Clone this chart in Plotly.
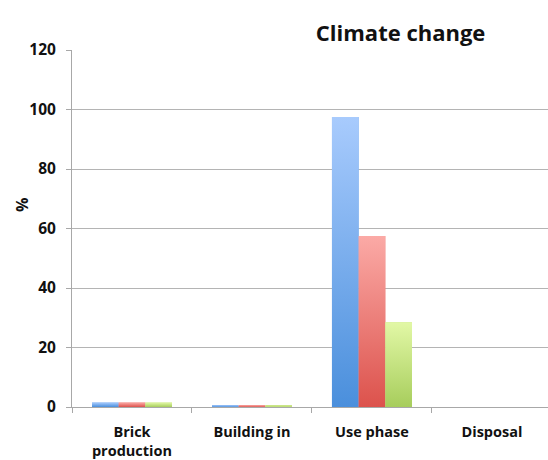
import plotly.graph_objects as go

# Life-cycle stages and the share (%) of climate-change impact per scenario
stages = ["Brick<br>production", "Building in", "Use phase", "Disposal"]
scenario_a = [1.5, 0.5, 97.5, 0.0]
scenario_b = [1.5, 0.5, 57.5, 0.0]
scenario_c = [1.5, 0.4, 28.5, 0.0]
y_ticks = [0, 20, 40, 60, 80, 100, 120]

# (name, values, flat colour, gradient bottom, gradient top)
series = [
    ("A", scenario_a, "#70a7ea", "#4a8fdc", "#a8cbfd"),
    ("B", scenario_b, "#ec7f79", "#dc524c", "#fbaaa6"),
    ("C", scenario_c, "#c4e07e", "#a7cd5c", "#e2f8a6"),
]

BARGAP = 0.333
n_series = len(series)
bar_w = (1 - BARGAP) / n_series
pos = list(range(len(stages)))

fig = go.Figure()
for k, (name, vals, col, dark, light) in enumerate(series):
    fig.add_trace(go.Bar(x=pos, y=vals, name=name, width=bar_w,
                         offset=-(1 - BARGAP) / 2 + k * bar_w,
                         marker=dict(color=col, line=dict(width=0))))
    # vertical gradient fill laid over each bar, spanning bar bottom to top
    for i, v in enumerate(vals):
        if v <= 0:
            continue
        x0 = pos[i] - (1 - BARGAP) / 2 + k * bar_w
        x1 = x0 + bar_w
        fig.add_trace(go.Scatter(
            x=[x0, x1, x1, x0, x0], y=[0, 0, v, v, 0],
            mode="lines", line=dict(width=0), fill="toself",
            fillgradient=dict(type="vertical", start=0, stop=v,
                              colorscale=[[0, dark], [1, light]]),
            hoverinfo="skip", showlegend=False))

font_family = "Open Sans, Liberation Sans, sans-serif"
fig.update_layout(
    width=548, height=460,
    margin=dict(l=72, r=0, t=50, b=53),
    paper_bgcolor="white", plot_bgcolor="white",
    barmode="overlay",
    showlegend=False,
    font=dict(family=font_family, color="#111111"),
    title=dict(text="<b>Climate change</b>", x=0.731, xanchor="center",
               y=0.928, yanchor="middle", font=dict(size=22, color="#111111")),
    annotations=[dict(text="<b>%</b>", textangle=-90, showarrow=False,
                      xref="paper", yref="paper", x=-0.105, y=0.566,
                      xanchor="center", yanchor="middle",
                      font=dict(size=16, color="#111111"))],
)
fig.update_xaxes(
    type="linear", range=[-0.5, 3.467],
    tickvals=pos, ticktext=stages, ticks="", ticklabelstandoff=12,
    minor=dict(tick0=-0.5, dtick=1, ticks="outside", ticklen=5,
               tickcolor="#a8a8a8", showgrid=False),
    showline=True, linecolor="#a8a8a8", linewidth=1,
    showgrid=False, zeroline=False,
    tickfont=dict(size=14.5, color="#111111", weight="bold"),
)
fig.update_yaxes(
    range=[0, 120], tickvals=y_ticks, ticks="outside", ticklen=5,
    tickcolor="#a8a8a8", showline=True, linecolor="#a8a8a8", linewidth=1,
    showgrid=True, gridcolor="#b4b4b4", gridwidth=1, zeroline=False,
    ticklabelstandoff=7,
    tickfont=dict(size=15.5, color="#111111", weight="bold"),
)

fig.write_html("out.html")
